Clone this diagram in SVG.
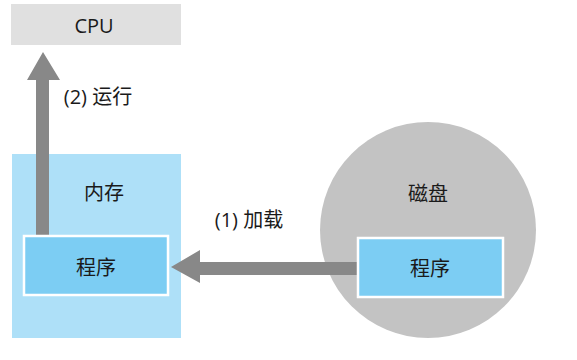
<svg xmlns="http://www.w3.org/2000/svg" width="577" height="360" viewBox="0 0 577 360">
<style>
text{font-family:"Open Sans","Noto Sans CJK SC",sans-serif;fill:#1a1a1a;text-anchor:middle;dominant-baseline:central}
.t{font-size:20px}
.prog{fill:#7ccdf3;stroke:#fff;stroke-width:2.5}
.arr{fill:#888}
</style>
<rect width="577" height="360" fill="#fff"/>
<g id="cpu">
<rect x="11" y="4" width="170" height="41" fill="#e0e0e0"/>
<text class="t" x="94" y="25">CPU</text>
</g>
<g id="memory">
<rect x="12" y="154" width="169" height="184" fill="#aee0f8"/>
<text class="t" x="104" y="192">内存</text>
</g>
<g id="disk">
<circle cx="428" cy="230" r="108" fill="#c3c3c3"/>
<text class="t" x="428" y="193">磁盘</text>
</g>
<g id="connectors">
<polygon class="arr" points="36,236 36,80 27,80 43,52 60,80 49,80 49,236"/>
<polygon class="arr" points="360,262 200,262 200,250 171,267 200,283 200,275 360,275"/>
<text class="t" x="98" y="96">(2) 运行</text>
<text class="t" x="249" y="219">(1) 加载</text>
</g>
<g id="program-mem">
<rect class="prog" x="24" y="236" width="144" height="59"/>
<text class="t" x="96" y="267">程序</text>
</g>
<g id="program-disk">
<rect class="prog" x="358" y="238" width="145" height="59"/>
<text class="t" x="430" y="268">程序</text>
</g>
</svg>
